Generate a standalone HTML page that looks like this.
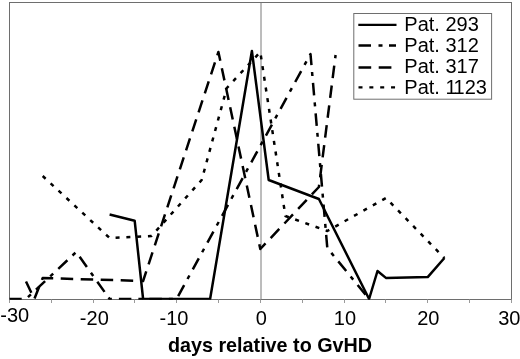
<!DOCTYPE html>
<html><head><meta charset="utf-8"><title>chart</title>
<style>
html,body{margin:0;padding:0;background:#fff;}
svg{display:block;}
text{font-family:"Liberation Sans",sans-serif;fill:#000;}
</style></head>
<body>
<svg width="520" height="359" viewBox="0 0 520 359">
<rect x="0" y="0" width="520" height="359" fill="#fff"/>
<!-- plot frame -->
<rect x="9.5" y="2.5" width="502" height="297" fill="none" stroke="#6e6e6e" stroke-width="1"/>
<!-- zero line -->
<line x1="261" y1="2.5" x2="261" y2="299.5" stroke="#7a7a7a" stroke-width="1"/>
<!-- ticks -->
<g stroke="#9a9a9a" stroke-width="1">
<line x1="9.5" y1="299.5" x2="9.5" y2="303"/>
<line x1="51.5" y1="299.5" x2="51.5" y2="303"/>
<line x1="93.5" y1="299.5" x2="93.5" y2="303"/>
<line x1="134.5" y1="299.5" x2="134.5" y2="303"/>
<line x1="176.5" y1="299.5" x2="176.5" y2="303"/>
<line x1="218.5" y1="299.5" x2="218.5" y2="303"/>
<line x1="260.5" y1="299.5" x2="260.5" y2="303"/>
<line x1="302.5" y1="299.5" x2="302.5" y2="303"/>
<line x1="344.5" y1="299.5" x2="344.5" y2="303"/>
<line x1="385.5" y1="299.5" x2="385.5" y2="303"/>
<line x1="427.5" y1="299.5" x2="427.5" y2="303"/>
<line x1="469.5" y1="299.5" x2="469.5" y2="303"/>
<line x1="511.5" y1="299.5" x2="511.5" y2="303"/>
</g>
<!-- series -->
<defs><clipPath id="pc"><rect x="9.5" y="2.5" width="502" height="297.3"/></clipPath></defs>
<g fill="none" stroke="#000" stroke-width="2.5" stroke-linejoin="round" clip-path="url(#pc)">
<polyline id="s293" points="109.6,214.5 134.7,220.8 143.1,299 210.1,299 251.9,51 268.7,180 318.9,199 369.1,299 377.5,271 385.9,277.9 427.7,277.1 444.4,258"/>
<polyline id="s312" stroke-dasharray="12.5 7 4 7" points="9.2,299 26,299 76.2,252 109.6,299 176.6,299 310.5,54 327.3,248 369.1,299"/>
<polyline id="s317" stroke-dasharray="12.5 7.5" points="26,281.5 34.3,299 42.7,278 143.1,281 218.4,52 260.3,249 318.9,187 335.6,55"/>
<polyline id="s1123" stroke-dasharray="4 6.8" points="42.7,176 109.6,238 151.5,236 201.7,180 226.8,88 260.3,52 285.4,216 327.3,231 385.9,198 444.4,258"/>
</g>
<!-- legend -->
<rect x="353.8" y="13.5" width="137.8" height="85.7" fill="#fff" stroke="#6e6e6e" stroke-width="1"/>
<g fill="none" stroke="#000" stroke-width="2.4">
<line x1="358.3" y1="24.9" x2="396.5" y2="24.9"/>
<line x1="358.5" y1="45.5" x2="396" y2="45.5" stroke-dasharray="12.5 7.5 4 6.5"/>
<line x1="358.5" y1="67.5" x2="396" y2="67.5" stroke-dasharray="12.7 7.5"/>
<line x1="358.5" y1="87.4" x2="396" y2="87.4" stroke-dasharray="4 6.85"/>
</g>
<g font-size="20">
<text x="404.3" y="31.3">Pat. 293</text>
<text x="404.3" y="51.8">Pat. 312</text>
<text x="404.3" y="72.8">Pat. 317</text>
<text x="404.3" y="94.1">Pat. 1<tspan dx="-1.5">123</tspan></text>
</g>
<!-- tick labels -->
<g font-size="20">
<text x="0.3" y="322.3">-30</text>
<text x="94.3" y="324.9" text-anchor="middle">-20</text>
<text x="174" y="324.9" text-anchor="middle">-10</text>
<text x="261.3" y="324.9" text-anchor="middle">0</text>
<text x="344.9" y="324.9" text-anchor="middle">10</text>
<text x="428.3" y="324.9" text-anchor="middle">20</text>
<text x="520.5" y="324.9" text-anchor="end">30</text>
</g>
<text x="270" y="351.8" font-size="19.75" font-weight="bold" text-anchor="middle">days relative to GvHD</text>
</svg>
</body></html>
